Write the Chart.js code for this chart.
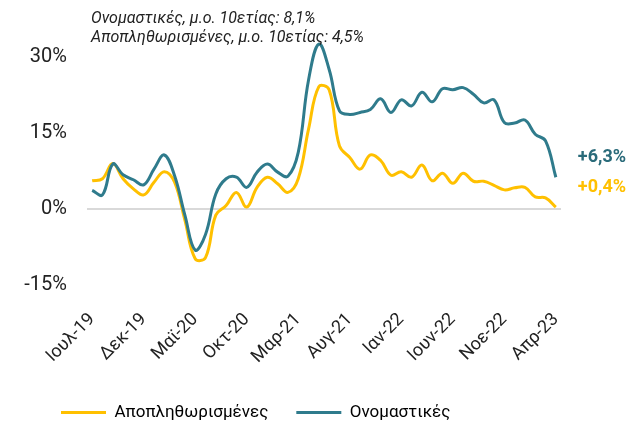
<!DOCTYPE html>
<html>
<head>
<meta charset="utf-8">
<script src="https://cdn.jsdelivr.net/npm/chart.js@4.4.0/dist/chart.umd.min.js"></script>
<style>
  body { margin: 0; background: #fff; }
  #box { width: 631px; height: 424px; }
</style>
</head>
<body>
<div id="box"><canvas id="GraficoInflacao"></canvas></div>
<script>
/* Dados do gráfico */
var meses = [
    'Ιουλ-19', 'Αυγ-19', 'Σεπ-19', 'Οκτ-19', 'Νοε-19', 'Δεκ-19',
    'Ιαν-20', 'Φεβ-20', 'Μαρ-20', 'Απρ-20', 'Μαϊ-20', 'Ιουν-20', 'Ιουλ-20', 'Αυγ-20', 'Σεπ-20', 'Οκτ-20', 'Νοε-20', 'Δεκ-20',
    'Ιαν-21', 'Φεβ-21', 'Μαρ-21', 'Απρ-21', 'Μαϊ-21', 'Ιουν-21', 'Ιουλ-21', 'Αυγ-21', 'Σεπ-21', 'Οκτ-21', 'Νοε-21', 'Δεκ-21',
    'Ιαν-22', 'Φεβ-22', 'Μαρ-22', 'Απρ-22', 'Μαϊ-22', 'Ιουν-22', 'Ιουλ-22', 'Αυγ-22', 'Σεπ-22', 'Οκτ-22', 'Νοε-22', 'Δεκ-22',
    'Ιαν-23', 'Φεβ-23', 'Μαρ-23', 'Απρ-23'
];

var ονομαστικες = [
    3.7, 2.8, 8.9, 6.8, 5.8, 4.8,
    7.9, 10.7, 6.6, -1.2, -8.1, -5.0, 3.0, 6.0, 6.3, 4.3, 7.3, 8.9,
    7.3, 6.5, 11.2, 25.5, 32.6, 27.6, 19.4, 18.7, 19.1, 19.7, 21.8, 19.1,
    21.6, 20.4, 23.1, 21.2, 23.8, 23.6, 24.0, 22.7, 21.0, 21.6, 17.1, 17.0,
    17.6, 14.8, 13.5, 6.3
];

var αποπληθωρισμενες = [
    5.6, 6.0, 9.0, 6.0, 4.0, 2.8,
    5.3, 7.4, 5.3, -2.2, -9.8, -9.6, -1.2, 0.7, 3.3, 0.4, 4.3, 6.3,
    5.0, 3.3, 6.0, 15.8, 24.2, 23.6, 12.5, 10.2, 7.9, 10.7, 9.6, 6.7,
    7.4, 6.3, 8.7, 5.6, 7.1, 5.1, 7.1, 5.5, 5.5, 4.7, 3.8, 4.2,
    4.3, 2.4, 2.2, 0.4
];

var yTicks = [-15, 0, 15, 30];
var notas = ['Ονομαστικές, μ.ο. 10ετίας: 8,1%', 'Αποπληθωρισμένες, μ.ο. 10ετίας: 4,5%'];
var rotulosFinais = ['+6,3%', '+0,4%'];

var corTeal = '#2f7b8c';
var corAmarela = '#ffc000';
var fonte = 'Roboto, "Noto Sans", sans-serif';

/* Textos extras: notas no topo e valores finais */
var textosExtras = {
    id: 'textosExtras',
    afterLayout: function (chart) {
        /* desloca a legenda para a direita, como no original */
        chart.legend.left += 23;
        chart.legend.right += 23;
    },
    afterDraw: function (chart) {
        var ctx = chart.ctx;
        var x = chart.scales.x;
        var y = chart.scales.y;
        var ultimo = meses.length - 1;

        ctx.save();
        ctx.font = 'italic 16px ' + fonte;
        ctx.fillStyle = '#222';
        ctx.textAlign = 'left';
        ctx.textBaseline = 'middle';
        ctx.fillText(notas[0], 91, 19);
        ctx.fillText(notas[1], 91, 38);

        ctx.font = 'bold 18px ' + fonte;
        var xr = x.getPixelForValue(ultimo) + 22;
        ctx.fillStyle = '#2a6b7a';
        ctx.fillText(rotulosFinais[0], xr, y.getPixelForValue(ονομαστικες[ultimo]) - 20);
        ctx.fillStyle = corAmarela;
        ctx.fillText(rotulosFinais[1], xr, y.getPixelForValue(αποπληθωρισμενες[ultimo]) - 20);
        ctx.restore();
    }
};

new Chart(document.getElementById('GraficoInflacao'), {
    type: 'line',
    data: {
        labels: meses,
        datasets: [{
            label: 'Αποπληθωρισμένες',
            data: αποπληθωρισμενες,
            borderColor: corAmarela,
            backgroundColor: corAmarela,
            borderWidth: 3,
            pointRadius: 0,
            tension: 0.4,
            order: 1
        }, {
            label: 'Ονομαστικές',
            data: ονομαστικες,
            borderColor: corTeal,
            backgroundColor: corTeal,
            borderWidth: 3,
            pointRadius: 0,
            tension: 0.4,
            order: 0
        }]
    },
    options: {
        responsive: true,
        maintainAspectRatio: false,
        animation: false,
        layout: { padding: { left: 10, right: 70, top: 30, bottom: -7 } },
        scales: {
            x: {
                offset: true,
                grid: { display: false },
                border: { display: false },
                afterFit: function (scale) { scale.height = 91; },
                ticks: {
                    autoSkip: false,
                    maxRotation: 45,
                    minRotation: 45,
                    padding: 16,
                    color: '#222',
                    font: { family: fonte, size: 18 },
                    callback: function (value, index) {
                        return index % 5 === 0 ? this.getLabelForValue(value) : '';
                    }
                }
            },
            y: {
                min: -15,
                max: 35,
                afterBuildTicks: function (scale) {
                    scale.ticks = yTicks.map(function (v) { return { value: v }; });
                },
                afterFit: function (scale) { scale.width = 77; },
                border: { display: false },
                grid: {
                    drawTicks: false,
                    lineWidth: 2,
                    color: function (c) { return c.tick && c.tick.value === 0 ? '#d9d9d9' : 'rgba(0,0,0,0)'; }
                },
                ticks: {
                    padding: 20,
                    color: '#222',
                    font: { family: fonte, size: 20 },
                    callback: function (v) { return v + '%'; }
                }
            }
        },
        plugins: {
            tooltip: { enabled: false },
            legend: {
                position: 'bottom',
                align: 'start',
                labels: {
                    boxWidth: 45,
                    boxHeight: 3,
                    padding: 28,
                    color: '#222',
                    font: { family: fonte, size: 17 },
                    generateLabels: function (chart) {
                        return chart.data.datasets.map(function (d, i) {
                            return {
                                text: d.label,
                                fillStyle: d.borderColor,
                                strokeStyle: d.borderColor,
                                lineWidth: 0,
                                hidden: false,
                                datasetIndex: i
                            };
                        });
                    }
                }
            }
        }
    },
    plugins: [textosExtras]
});
</script>
</body>
</html>
